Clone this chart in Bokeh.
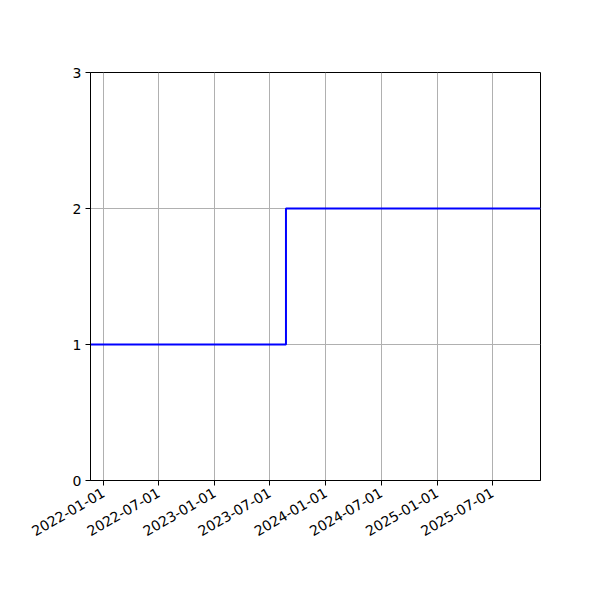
import math
import pandas as pd
from bokeh.plotting import figure
from bokeh.models import Range1d, FixedTicker, DatetimeTickFormatter
from bokeh.embed import file_html
from bokeh.resources import INLINE

# data
step_dates = ["2021-11-19", "2023-08-23", "2025-12-06"]
step_values = [1, 2, 2]
x_tick_labels = ["2022-01-01", "2022-07-01", "2023-01-01", "2023-07-01",
                 "2024-01-01", "2024-07-01", "2025-01-01", "2025-07-01"]
y_ticks = [0, 1, 2, 3]

xs = pd.to_datetime(step_dates)

p = figure(x_axis_type="datetime", output_backend="svg", toolbar_location=None,
           frame_width=450, frame_height=408,
           x_range=Range1d(xs[0], xs[-1]), y_range=Range1d(0, 3))
p.min_border_left = 90
p.min_border_top = 72
p.min_border_right = 44
p.min_border_bottom = 104
p.background_fill_color = "white"
p.border_fill_color = "white"
p.outline_line_color = "black"
p.outline_line_width = 1

p.step(x=xs, y=step_values, mode="after", line_color="blue", line_width=2)

tick_ms = [pd.Timestamp(t).value // 10**6 for t in x_tick_labels]
p.xaxis.ticker = FixedTicker(ticks=tick_ms)
p.xaxis.formatter = DatetimeTickFormatter(
    milliseconds="%Y-%m-%d", seconds="%Y-%m-%d", minsec="%Y-%m-%d",
    minutes="%Y-%m-%d", hourmin="%Y-%m-%d", hours="%Y-%m-%d",
    days="%Y-%m-%d", months="%Y-%m-%d", years="%Y-%m-%d")
p.xaxis.major_label_orientation = math.pi / 6
p.yaxis.ticker = FixedTicker(ticks=y_ticks)

for ax in (p.xaxis, p.yaxis):
    ax.axis_line_color = "black"
    ax.major_tick_line_color = "black"
    ax.major_tick_out = 5
    ax.major_tick_in = 0
    ax.minor_tick_line_color = None
    ax.major_label_text_font = "DejaVu Sans"
    ax.major_label_text_font_size = "14px"
    ax.major_label_text_color = "black"
    ax.major_label_standoff = 4

p.xaxis.major_label_standoff = 6

p.xgrid.grid_line_color = "#b0b0b0"
p.ygrid.grid_line_color = "#b0b0b0"
p.xgrid.grid_line_width = 1
p.ygrid.grid_line_width = 1

open("out.html", "w").write(file_html(p, INLINE))
